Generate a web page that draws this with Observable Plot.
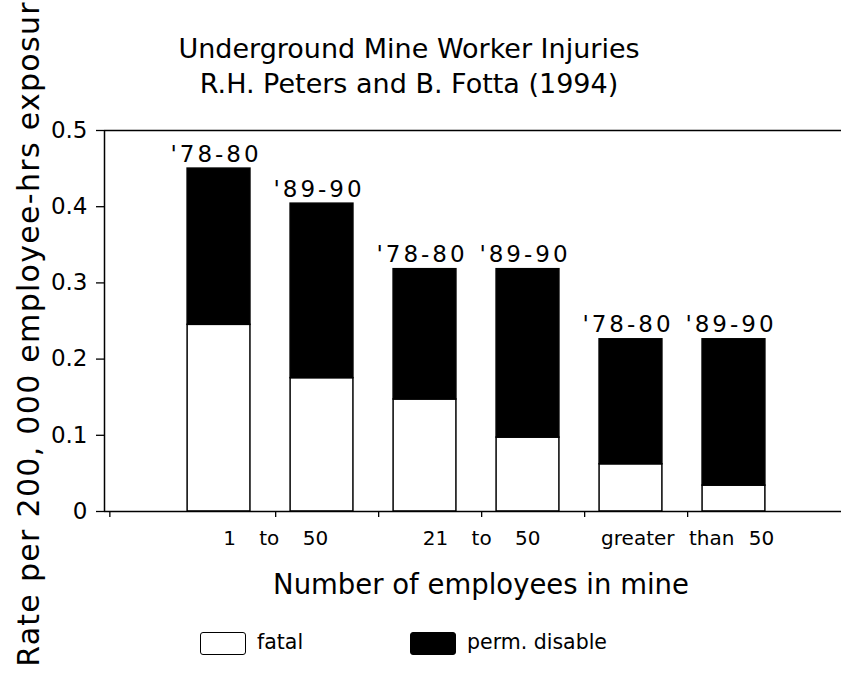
<!DOCTYPE html>
<html>
<head>
<meta charset="utf-8">
<script src="https://cdn.jsdelivr.net/npm/d3@7"></script>
<script src="https://cdn.jsdelivr.net/npm/@observablehq/plot@0.6"></script>
<style>
  html, body { margin: 0; padding: 0; background: #fff; }
  #wrap { position: relative; width: 841px; height: 680px; overflow: hidden; font-family: "DejaVu Sans", sans-serif; color: #000; }
  #wrap svg { position: absolute; left: 0; top: 0; }
  .lg-box { position: absolute; top: 632px; width: 44px; height: 21px; border: 1.5px solid #000; border-radius: 3px; }
  .lg-txt { position: absolute; top: 629px; font-size: 20.5px; line-height: 26px; white-space: nowrap; }
</style>
</head>
<body>
<div id="wrap"></div>
<script>
// ---- data ----
const periods = ["'78-80", "'89-90", "'78-80", "'89-90", "'78-80", "'89-90"];
const groups = ["1 to 50", "21 to 50", "greater than 50"];
const fatal = [0.245, 0.175, 0.147, 0.097, 0.062, 0.034];
const permDisable = [0.205, 0.229, 0.171, 0.221, 0.164, 0.192];
const series = ["fatal", "perm. disable"];
const seriesColors = ["#ffffff", "#000000"];
const yTicks = [0, 0.1, 0.2, 0.3, 0.4, 0.5];
const titleLines = ["Underground Mine Worker Injuries", "R.H. Peters and B. Fotta (1994)"];
const xLabel = "Number of employees in mine";
const yLabel = "Rate per 200, 000 employee-hrs exposur";

// ---- layout helpers (scale positions, not data) ----
const xDomain = [-0.112, 7.044];
const halfBar = 0.305;
const xTicks = [-0.06, 1.55, 2.55, 3.55, 4.55, 5.55];
const groupTickPos = [1.55, 3.55, 5.55];

const rows = [];
const bars = [];
fatal.forEach((f, i) => {
  const pos = i + 1;
  rows.push({pos, series: series[0], y1: 0, y2: f});
  rows.push({pos, series: series[1], y1: f, y2: f + permDisable[i]});
  bars.push({pos, period: periods[i], total: f + permDisable[i]});
});

const chart = Plot.plot({
  width: 841,
  height: 680,
  marginTop: 130,
  marginBottom: 169,
  marginLeft: 104,
  marginRight: 0,
  style: {fontFamily: "DejaVu Sans, sans-serif", color: "#000", background: "transparent", overflow: "visible"},
  x: {domain: xDomain},
  y: {domain: [0, 0.5]},
  color: {domain: series, range: seriesColors},
  marks: [
    Plot.rect(rows, {x1: d => d.pos - halfBar, x2: d => d.pos + halfBar, y1: "y1", y2: "y2", fill: "series", stroke: "#000", strokeWidth: 1.5}),
    Plot.ruleY([0, 0.5], {stroke: "#000", strokeWidth: 1.5}),
    Plot.ruleX([xDomain[0]], {y1: 0, y2: 0.5, stroke: "#000", strokeWidth: 1.5}),
    Plot.axisY({ticks: yTicks, tickFormat: d => d === 0 ? "0" : d.toFixed(1), tickSize: 8, tickPadding: 9, fontSize: 23, label: null, strokeWidth: 1.3}),
    Plot.axisX({ticks: xTicks, tickFormat: d => { const i = groupTickPos.indexOf(d); return i >= 0 ? groups[i] : ""; }, tickSize: 6, tickPadding: 13, fontSize: 20, label: null, strokeWidth: 1.3}),
    Plot.text(bars, {x: "pos", y: "total", text: "period", lineAnchor: "bottom", dy: -7, dx: -3, fontSize: 23}),
    Plot.text([xLabel], {frameAnchor: "bottom", lineAnchor: "bottom", dy: 82, dx: 8, fontSize: 27.5}),
    Plot.text([yLabel], {frameAnchor: "left", textAnchor: "middle", rotate: -90, dx: -75, dy: 13, fontSize: 30}),
    Plot.text([titleLines.join("\n")], {frameAnchor: "top", lineAnchor: "bottom", lineHeight: 1.26, dy: -38, dx: -64, fontSize: 27})
  ]
});

const wrap = document.getElementById("wrap");
wrap.appendChild(chart);
chart.querySelectorAll("text").forEach(t => {
  const s = t.textContent;
  if (groups.includes(s)) t.style.wordSpacing = /^\d/.test(s) ? "17px" : "8px";
  if (periods.includes(s)) t.style.letterSpacing = "3px";
  if (s === yLabel) t.style.letterSpacing = "1.3px";
});

// ---- legend (HTML, below the plot frame) ----
const legendLeft = [200, 410];
series.forEach((s, i) => {
  const box = document.createElement("div");
  box.className = "lg-box";
  box.style.left = legendLeft[i] + "px";
  box.style.background = seriesColors[i];
  wrap.appendChild(box);
  const txt = document.createElement("div");
  txt.className = "lg-txt";
  txt.style.left = (legendLeft[i] + 57) + "px";
  txt.textContent = s;
  wrap.appendChild(txt);
});
</script>
</body>
</html>
